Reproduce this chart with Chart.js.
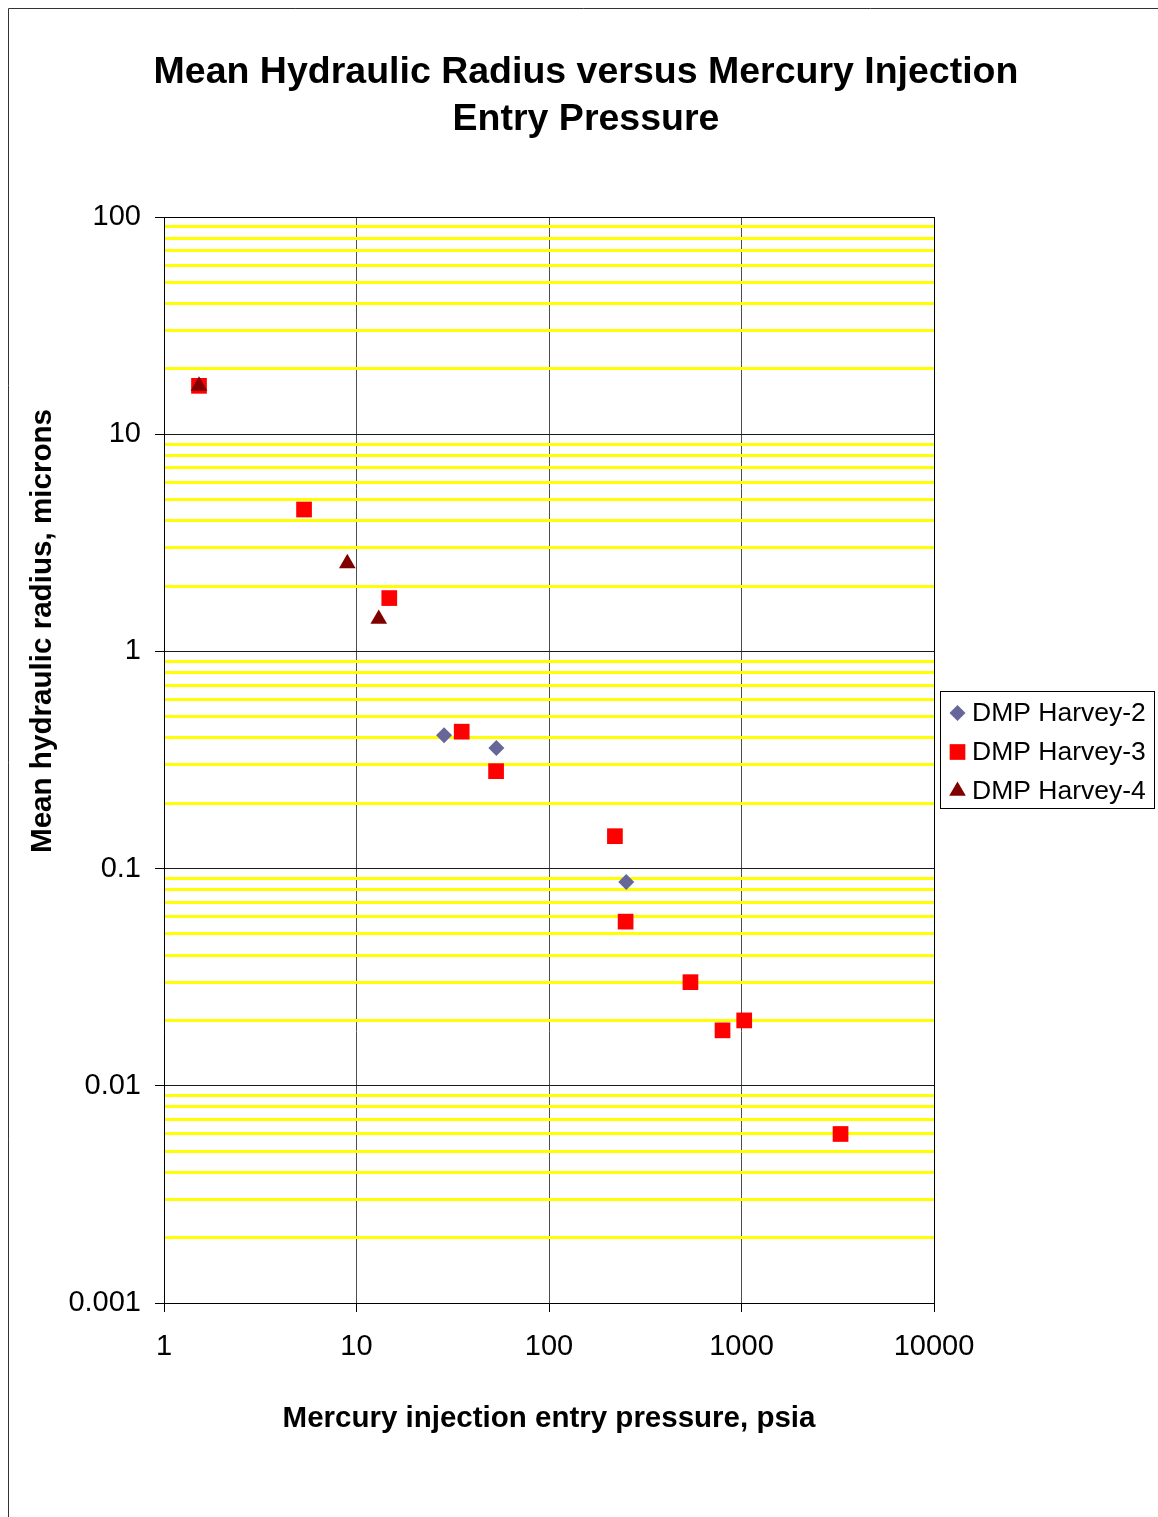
<!DOCTYPE html>
<html>
<head>
<meta charset="utf-8">
<script src="https://cdn.jsdelivr.net/npm/chart.js@4.4.1/dist/chart.umd.min.js"></script>
<style>
  html, body { margin: 0; padding: 0; background: #ffffff; }
  #wrap { position: relative; width: 1158px; height: 1517px; }
  canvas { display: block; }
</style>
</head>
<body>
<div id="wrap"><canvas id="chart" width="1158" height="1517"></canvas></div>
<script>
// Titles and labels
const chartTitle = ['Mean Hydraulic Radius versus Mercury Injection', 'Entry Pressure'];
const xAxisTitle = 'Mercury injection entry pressure, psia';
const yAxisTitle = 'Mean hydraulic radius, microns';
const seriesNames = ['DMP Harvey-2', 'DMP Harvey-3', 'DMP Harvey-4'];

// Entry pressure (psia) and mean hydraulic radius (microns) per well
const harvey2Pressure = [28.5, 53.3, 252];
const harvey2Radius   = [0.411, 0.359, 0.0867];

const harvey3Pressure = [1.52, 5.34, 14.8, 35.2, 53.1, 220, 250, 543, 797, 1033, 3270];
const harvey3Radius   = [16.7, 4.50, 1.76, 0.427, 0.281, 0.141, 0.057, 0.030, 0.018, 0.020, 0.0060];

const harvey4Pressure = [1.52, 8.96, 13.05];
const harvey4Radius   = [16.7, 2.54, 1.41];

// Axis ticks
const xTickValues = [1, 10, 100, 1000, 10000];
const xTickLabels = ['1', '10', '100', '1000', '10000'];
const yTickValues = [0.001, 0.01, 0.1, 1, 10, 100];
const yTickLabels = ['0.001', '0.01', '0.1', '1', '10', '100'];

const FONT = "'Liberation Sans', Arial, Helvetica, sans-serif";

function toPoints(xs, ys) {
  return xs.map((x, i) => ({ x: x, y: ys[i] }));
}

// Decade lines plus the 2..9 intermediate lines of every decade
function yGridTicks() {
  const out = [];
  for (let d = 0; d < yTickValues.length - 1; d++) {
    for (let m = 1; m <= 9; m++) {
      out.push({ value: m === 1 ? yTickValues[d] : m * yTickValues[d], major: m === 1 });
    }
  }
  out.push({ value: yTickValues[yTickValues.length - 1], major: true });
  return out;
}

const decorations = {
  id: 'decorations',
  beforeDatasetsDraw(chart) {
    const ctx = chart.ctx;
    const a = chart.chartArea;
    ctx.save();
    ctx.strokeStyle = '#000000';
    ctx.lineWidth = 1;
    ctx.beginPath();
    ctx.moveTo(Math.round(a.left) + 0.5, Math.round(a.top) + 0.5);
    ctx.lineTo(Math.round(a.right) + 0.5, Math.round(a.top) + 0.5);
    ctx.lineTo(Math.round(a.right) + 0.5, Math.round(a.bottom) + 0.5);
    ctx.stroke();
    ctx.restore();
  },
  afterDraw(chart) {
    const ctx = chart.ctx;
    ctx.save();

    // outer frame of the chart object
    ctx.strokeStyle = '#333333';
    ctx.lineWidth = 1;
    ctx.beginPath();
    ctx.moveTo(8.5, chart.height);
    ctx.lineTo(8.5, 8.5);
    ctx.lineTo(chart.width, 8.5);
    ctx.stroke();

    // main title
    ctx.fillStyle = '#000000';
    ctx.font = 'bold 37.5px ' + FONT;
    ctx.textAlign = 'center';
    ctx.textBaseline = 'middle';
    ctx.fillText(chartTitle[0], 586, 73);
    ctx.fillText(chartTitle[1], 586, 120);

    // vertical axis title
    ctx.save();
    ctx.translate(43, 631);
    ctx.rotate(-Math.PI / 2);
    ctx.font = 'bold 29.6px ' + FONT;
    ctx.fillText(yAxisTitle, 0, 0);
    ctx.restore();

    // legend box
    ctx.strokeStyle = '#000000';
    ctx.strokeRect(940.5, 691.5, 214, 117);
    ctx.font = '26.5px ' + FONT;
    ctx.textAlign = 'left';
    ctx.textBaseline = 'middle';
    const ds = chart.data.datasets;
    for (let i = 0; i < ds.length; i++) {
      const y = 713 + i * 39;
      ctx.fillStyle = ds[i].pointBackgroundColor;
      Chart.helpers.drawPoint(ctx, {
        pointStyle: ds[i].pointStyle,
        radius: ds[i].pointRadius,
        rotation: 0,
        borderWidth: 0
      }, 957.5, y);
      ctx.fillStyle = '#000000';
      ctx.fillText(ds[i].label, 972, y + 1);
    }
    ctx.restore();
  }
};

new Chart(document.getElementById('chart'), {
  type: 'scatter',
  data: {
    datasets: [
      {
        label: seriesNames[0],
        data: toPoints(harvey2Pressure, harvey2Radius),
        pointStyle: 'rectRot',
        pointRadius: 8,
        pointBackgroundColor: '#666699',
        pointBorderWidth: 0,
        order: 2
      },
      {
        label: seriesNames[1],
        data: toPoints(harvey3Pressure, harvey3Radius),
        pointStyle: 'rect',
        pointRadius: 11.1,
        pointBackgroundColor: '#ff0000',
        pointBorderWidth: 0,
        order: 1
      },
      {
        label: seriesNames[2],
        data: toPoints(harvey4Pressure, harvey4Radius),
        pointStyle: 'triangle',
        pointRadius: 9.6,
        pointBackgroundColor: '#800000',
        pointBorderWidth: 0,
        order: 0
      }
    ]
  },
  options: {
    responsive: false,
    animation: false,
    events: [],
    layout: { padding: { left: 0, top: 217, right: 224, bottom: 0 } },
    plugins: {
      legend: { display: false },
      tooltip: { enabled: false },
      title: { display: false }
    },
    scales: {
      x: {
        type: 'logarithmic',
        position: 'bottom',
        min: 1,
        max: 10000,
        afterBuildTicks: (s) => { s.ticks = xTickValues.map(v => ({ value: v, major: true })); },
        afterFit: (s) => { s.height = 214; s.paddingLeft = 0; s.paddingRight = 0; },
        ticks: {
          autoSkip: false,
          maxRotation: 0,
          padding: 18,
          color: '#000000',
          font: { family: FONT, size: 29 },
          callback: (v) => xTickLabels[xTickValues.indexOf(v)]
        },
        grid: {
          color: '#4d4d4d',
          lineWidth: 1,
          tickLength: 9,
          tickColor: '#000000'
        },
        border: { display: true, color: '#000000', width: 1 },
        title: {
          display: true,
          text: xAxisTitle,
          color: '#000000',
          font: { family: FONT, size: 29.5, weight: 'bold' },
          padding: { top: 0, bottom: 80 }
        }
      },
      y: {
        type: 'logarithmic',
        position: 'left',
        min: 0.001,
        max: 100,
        afterBuildTicks: (s) => { s.ticks = yGridTicks(); },
        afterFit: (s) => { s.width = 164; s.paddingTop = 0; s.paddingBottom = 0; },
        ticks: {
          autoSkip: false,
          padding: 14,
          color: '#000000',
          font: { family: FONT, size: 29 },
          callback: (v, i, ticks) => ticks[i].major ? yTickLabels[yTickValues.indexOf(v)] : ''
        },
        grid: {
          color: (c) => (c.tick && c.tick.major) ? '#1a1a1a' : '#ffff00',
          lineWidth: (c) => (c.tick && c.tick.major) ? 1 : 3,
          tickLength: 9,
          tickColor: (c) => (c.tick && c.tick.major) ? '#000000' : 'rgba(0,0,0,0)',
          tickWidth: 1
        },
        border: { display: true, color: '#000000', width: 1 }
      }
    }
  },
  plugins: [decorations]
});
</script>
</body>
</html>
